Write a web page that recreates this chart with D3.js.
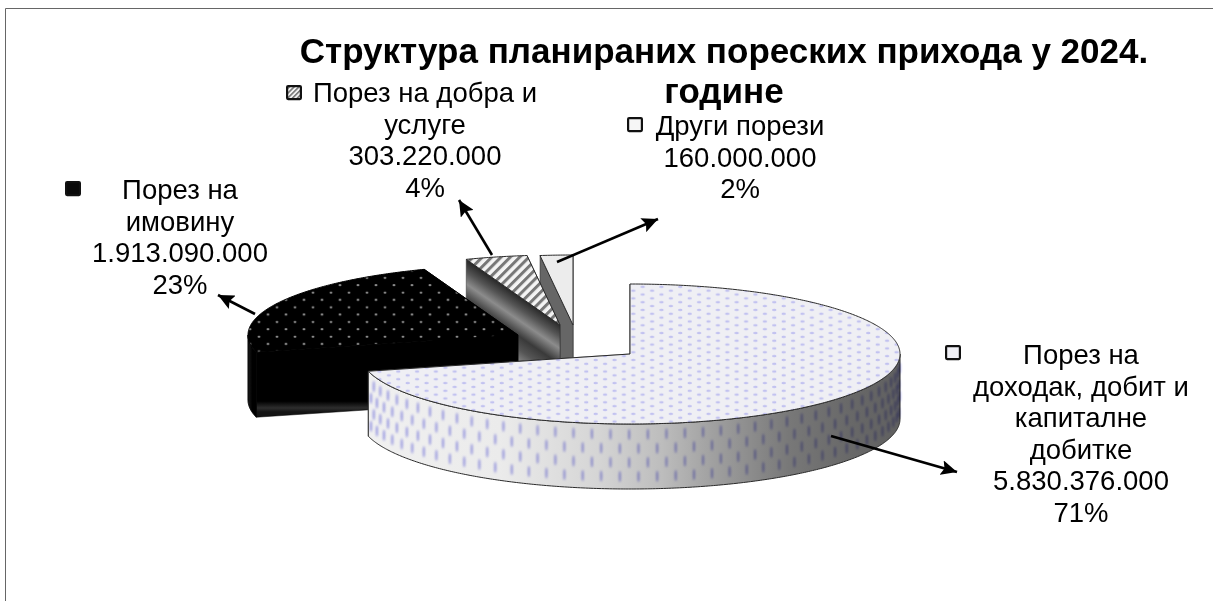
<!DOCTYPE html>
<html>
<head>
<meta charset="utf-8">
<script src="https://cdn.jsdelivr.net/npm/d3@7"></script>
<style>
html, body { margin: 0; padding: 0; background: #fff; }
svg { display: block; }
text { font-family: "Liberation Sans", Arial, sans-serif; fill: #000; }
</style>
</head>
<body>
<div id="chart"></div>
<script>
// values
const categories = ["Порез на доходак, добит и капиталне добитке", "Порез на имовину", "Порез на добра и услуге", "Други порези"];
const taxValues = [5830376000, 1913090000, 303220000, 160000000];
const titleLines = ["Структура планираних пореских прихода у 2024.", "године"];

const width = 1213, height = 601;
const cx = 630, cy = 354, rx = 270, ry = 70, depth = 65;

// per slice drawing settings, same order as categories
const explode = [[0, 0], [-112, -19], [-70, -29], [-57, -29]];
const topFill = ["url(#dotsBlue)", "url(#dotsWhite)", "url(#hatch)", "#ececec"];
const keyFill = ["#f0f0f6", "#0a0a0a", "url(#hatchKey)", "#f6f6f6"];
const faceFill = ["#ddd", "url(#blackFace)", "url(#hatchFace)", "#666"];
const wallFill = ["url(#wallMain)", "url(#wallBlack)", "#555", "#666"];
const labelWrap = [
    ["Порез на", "доходак, добит и", "капиталне", "добитке"],
    ["Порез на", "имовину"],
    ["Порез на добра и", "услуге"],
    ["Други порези"]
];
const labelPos = [[1081, 364], [180, 199], [425, 102], [740, 135]];
const keyPos = [[945, 345], [65, 181], [286, 85], [627, 117]];
const leaders = [
    [[831, 436], [957, 472]],
    [[255, 314], [218, 295]],
    [[492, 255], [459, 200]],
    [[557, 262], [658, 219]]
];

const svg = d3.select("#chart").append("svg")
    .attr("width", width)
    .attr("height", height);

const defs = svg.append("defs");

function addGradient(id, x1, y1, x2, y2, stops) {
    let g = defs.append("linearGradient")
        .attr("id", id)
        .attr("gradientUnits", "userSpaceOnUse")
        .attr("x1", x1).attr("y1", y1)
        .attr("x2", x2).attr("y2", y2);
    stops.forEach(s => g.append("stop").attr("offset", s[0]).attr("stop-color", s[1]));
}

addGradient("wallMain", 370, 0, 900, 0, [[0, "#f0f0f0"], [0.245, "#ebebeb"], [0.43, "#d5d5d5"], [0.55, "#bdbdbd"], [0.63, "#a5a5a5"], [0.79, "#787878"], [0.906, "#686868"], [1, "#606060"]]);
addGradient("wallBlack", 248, 0, 262, 0, [[0, "#1c1c1c"], [0.3, "#000"], [1, "#000"]]);
addGradient("blackFace", 0, 385, 0, 412, [[0, "#000"], [0.6, "#000"], [0.85, "#2e2e2e"], [1, "#141414"]]);
addGradient("hatchFace", 514, 293, 483, 338, [[0, "#2a2a2a"], [0.18, "#555"], [0.36, "#8c8c8c"], [0.6, "#3a3a3a"], [0.8, "#555"], [1, "#8a8a8a"]]);

defs.append("filter").attr("id", "soft").append("feGaussianBlur").attr("stdDeviation", 0.9);
defs.append("filter").attr("id", "softDot").append("feGaussianBlur").attr("stdDeviation", 0.6);

let pBlue = defs.append("pattern").attr("id", "dotsBlue").attr("patternUnits", "userSpaceOnUse")
    .attr("x", 628.6).attr("y", 284.9).attr("width", 18.8).attr("height", 7.7);
pBlue.append("rect").attr("width", 18.8).attr("height", 7.7).attr("fill", "#efeff4");
[[4.7, 5.8], [14.1, 1.95]].forEach(d =>
    pBlue.append("ellipse").attr("cx", d[0]).attr("cy", d[1]).attr("rx", 2.2).attr("ry", 1.2)
        .attr("fill", "#c2c2f0")
        .attr("filter", "url(#softDot)"));

let pWhite = defs.append("pattern").attr("id", "dotsWhite").attr("patternUnits", "userSpaceOnUse")
    .attr("x", 254.5).attr("y", 333).attr("width", 18).attr("height", 14.7);
pWhite.append("rect").attr("width", 18).attr("height", 14.7).attr("fill", "#000");
[[4.5, 3.7], [13.5, 11]].forEach(d =>
    pWhite.append("circle").attr("cx", d[0]).attr("cy", d[1]).attr("r", 1.1).attr("fill", "#bdbdbd"));

function addHatch(id, period, w) {
    let p = defs.append("pattern").attr("id", id).attr("patternUnits", "userSpaceOnUse")
        .attr("width", period).attr("height", period)
        .attr("patternTransform", "rotate(45)");
    p.append("rect").attr("width", period).attr("height", period).attr("fill", "#f4f4f4");
    p.append("rect").attr("width", w).attr("height", period).attr("fill", "#777");
}
addHatch("hatch", 6.6, 3);
addHatch("hatchKey", 3.4, 1.6);

// 3D pie: d3.pie gives the angles, slices are projected on an ellipse
const pie = d3.pie().sort(null).value(d => d)(taxValues);
const lineGen = d3.line();
const formatMoney = d3.formatLocale({ decimal: ",", thousands: ".", grouping: [3], currency: ["", ""] }).format(",d");
const total = d3.sum(taxValues);

function rimPoint(i, a, drop) {
    return [cx + explode[i][0] + rx * Math.sin(a), cy + explode[i][1] - ry * Math.cos(a) + drop];
}

function rim(i, a0, a1, drop) {
    let n = Math.max(2, Math.ceil((a1 - a0) / 0.01));
    return d3.range(n + 1).map(k => rimPoint(i, a0 + (a1 - a0) * k / n, drop));
}

function centerPoint(i, drop) {
    return [cx + explode[i][0], cy + explode[i][1] + drop];
}

function drawSlice(i) {
    let d = pie[i];
    let g = svg.append("g").attr("class", "slice");
    let edge = { stroke: i === 1 ? "#000" : "#2a2a2a", w: 1 };

    // cut faces, end face first because the start face is the one in front
    [d.endAngle, d.startAngle].forEach(a => {
        let c = centerPoint(i, 0), p = rimPoint(i, a, 0);
        g.append("path")
            .attr("d", lineGen([c, p, [p[0], p[1] + depth], [c[0], c[1] + depth]]) + "Z")
            .attr("fill", faceFill[i])
            .attr("stroke", edge.stroke)
            .attr("stroke-width", 0.5);
    });

    // outer wall, only the front half of the ellipse shows
    let a0 = Math.max(d.startAngle, Math.PI / 2);
    let a1 = Math.min(d.endAngle, Math.PI * 1.5);
    if (a1 > a0) {
        let wall = rim(i, a0, a1, 0).concat(rim(i, a0, a1, depth).reverse());
        g.append("path")
            .attr("d", lineGen(wall) + "Z")
            .attr("fill", wallFill[i])
            .attr("stroke", edge.stroke)
            .attr("stroke-width", edge.w);
    }
    if (i === 0) drawWallStreaks(g, a0, a1);

    // top
    let top = [centerPoint(i, 0)].concat(rim(i, d.startAngle, d.endAngle, 0));
    g.append("path")
        .attr("d", lineGen(top) + "Z")
        .attr("fill", topFill[i])
        .attr("stroke", edge.stroke)
        .attr("stroke-width", edge.w)
        .attr("stroke-linejoin", "round");
}

// blue vertical streaks on the big wall, they bunch up towards the sides
function drawWallStreaks(g, a0, a1) {
    let step = 9.35 / rx;
    let anchor = 164.3 * Math.PI / 180;
    let first = Math.ceil((a0 + 0.02 - anchor) / step);
    let last = Math.floor((a1 - 0.01 - anchor) / step);
    let streaks = [];
    d3.range(first, last + 1).forEach(k => {
        let base = rimPoint(0, anchor + k * step, 0);
        let off = k % 2 === 0 ? [10.5, 38.5] : [24.5, 52.5];
        off.forEach(o => streaks.push([base[0], base[1] + o]));
    });
    g.append("g")
        .attr("filter", "url(#soft)")
        .style("mix-blend-mode", "multiply")
        .selectAll("ellipse")
        .data(streaks)
        .join("ellipse")
        .attr("cx", d => d[0])
        .attr("cy", d => d[1])
        .attr("rx", 1.1)
        .attr("ry", 5.5)
        .attr("fill", "#a4a4f0");
}

// chart area border, only top and left are in the frame
svg.append("path")
    .attr("d", lineGen([[5.5, height], [5.5, 8.5], [width, 8.5]]))
    .attr("fill", "none")
    .attr("stroke", "#666")
    .attr("stroke-width", 1);

// back to front
[3, 2, 1, 0].forEach(drawSlice);

// leader arrows
defs.append("marker")
    .attr("id", "arrow")
    .attr("markerUnits", "userSpaceOnUse")
    .attr("viewBox", "0 0 16 15")
    .attr("refX", 16).attr("refY", 7.5)
    .attr("markerWidth", 16).attr("markerHeight", 15)
    .attr("orient", "auto")
    .append("path")
    .attr("d", "M0,0L16,7.5L0,15L3,7.5Z")
    .attr("fill", "#000");

svg.selectAll("line.leader")
    .data(leaders)
    .join("line")
    .attr("class", "leader")
    .attr("x1", d => d[0][0]).attr("y1", d => d[0][1])
    .attr("x2", d => d[1][0]).attr("y2", d => d[1][1])
    .attr("stroke", "#000")
    .attr("stroke-width", 2.6)
    .attr("marker-end", "url(#arrow)");

// labels with legend keys
categories.forEach((c, i) => {
    let lines = labelWrap[i].concat([formatMoney(taxValues[i]), Math.round(taxValues[i] / total * 100) + "%"]);
    svg.append("text")
        .attr("text-anchor", "middle")
        .attr("font-size", 27.5)
        .selectAll("tspan")
        .data(lines)
        .join("tspan")
        .attr("x", labelPos[i][0])
        .attr("y", (d, k) => labelPos[i][1] + k * 31.5)
        .text(d => d);
    svg.append("rect")
        .attr("x", keyPos[i][0] + 1.1).attr("y", keyPos[i][1] + 1.1)
        .attr("width", 13.8).attr("height", 13)
        .attr("rx", 1)
        .attr("fill", keyFill[i])
        .attr("stroke", "#111")
        .attr("stroke-width", 2.2);
});

// title
svg.append("text")
    .attr("text-anchor", "middle")
    .attr("font-size", 35)
    .attr("font-weight", "bold")
    .selectAll("tspan")
    .data(titleLines)
    .join("tspan")
    .attr("x", 724)
    .attr("y", (d, k) => 63 + k * 40)
    .text(d => d);
</script>
</body>
</html>
